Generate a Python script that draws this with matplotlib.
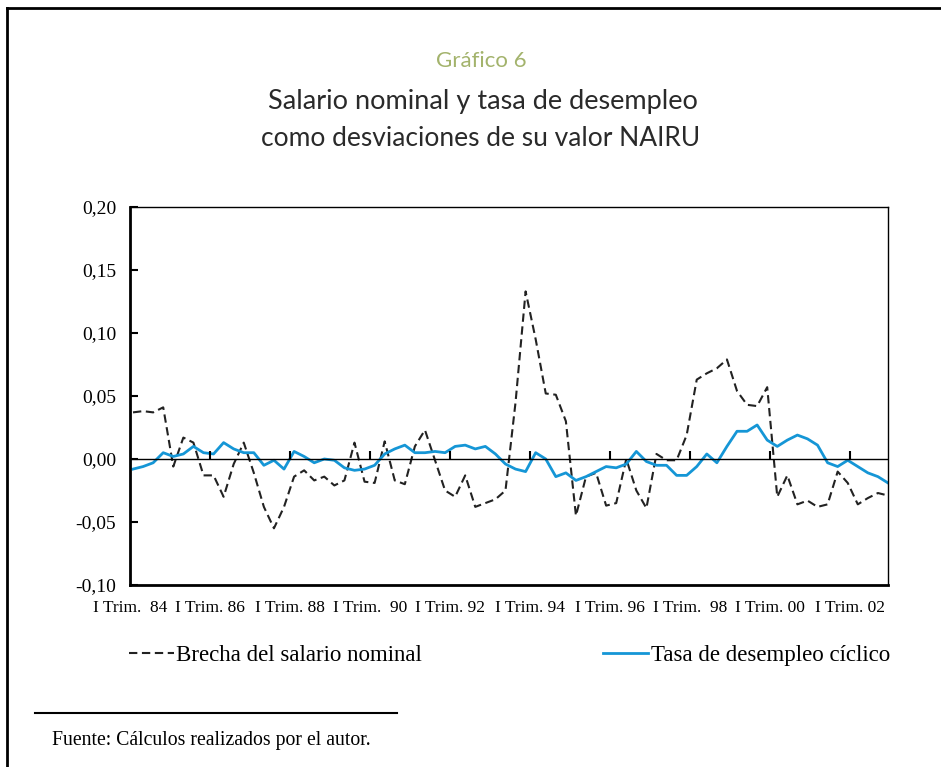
import matplotlib.pyplot as plt
import numpy as np
from matplotlib.lines import Line2D

# Quarterly data 1984 Q1 - 2002 Q4 (deviations from NAIRU value)
tick_labels = ['I Trim.  84', 'I Trim. 86', 'I Trim. 88', 'I Trim.  90', 'I Trim. 92',
               'I Trim. 94', 'I Trim. 96', 'I Trim.  98', 'I Trim. 00', 'I Trim. 02']
y_ticks = [-0.10, -0.05, 0.00, 0.05, 0.10, 0.15, 0.20]

brecha_salario = [
    0.037, 0.038, 0.037, 0.041, -0.006, 0.017, 0.013, -0.013, -0.013, -0.030,
    -0.004, 0.013, -0.011, -0.038, -0.055, -0.038, -0.014, -0.009, -0.017, -0.014,
    -0.021, -0.017, 0.013, -0.018, -0.019, 0.014, -0.017, -0.020, 0.010, 0.023,
    -0.001, -0.025, -0.030, -0.013, -0.038, -0.035, -0.032, -0.025, 0.045, 0.133,
    0.095, 0.052, 0.051, 0.030, -0.045, -0.014, -0.011, -0.037, -0.035, 0.000,
    -0.025, -0.039, 0.004, -0.001, -0.001, 0.019, 0.063, 0.068, 0.072, 0.079,
    0.054, 0.043, 0.042, 0.057, -0.030, -0.013, -0.036, -0.033, -0.038, -0.036,
    -0.010, -0.019, -0.036, -0.031, -0.027, -0.029,
]
desempleo_ciclico = [
    -0.008, -0.006, -0.003, 0.005, 0.002, 0.004, 0.010, 0.005, 0.004, 0.013,
    0.008, 0.005, 0.005, -0.005, -0.001, -0.008, 0.006, 0.002, -0.003, 0.000,
    -0.001, -0.007, -0.009, -0.008, -0.005, 0.004, 0.008, 0.011, 0.005, 0.005,
    0.006, 0.005, 0.010, 0.011, 0.008, 0.010, 0.004, -0.004, -0.008, -0.010,
    0.005, 0.000, -0.014, -0.011, -0.017, -0.014, -0.010, -0.006, -0.007, -0.004,
    0.006, -0.002, -0.005, -0.005, -0.013, -0.013, -0.006, 0.004, -0.003, 0.010,
    0.022, 0.022, 0.027, 0.015, 0.010, 0.015, 0.019, 0.016, 0.011, -0.003,
    -0.006, -0.001, -0.006, -0.011, -0.014, -0.019,
]

W, H = 941, 767
fig = plt.figure(figsize=(W / 100, H / 100), dpi=100)
fig.patch.set_facecolor('white')

# page frame (top and left only)
fig.add_artist(Line2D([7 / W, 1], [1 - 8 / H, 1 - 8 / H], color='black', lw=2))
fig.add_artist(Line2D([7 / W, 7 / W], [0, 1 - 8 / H], color='black', lw=2))

# titles
title_font = ['Lato', 'DejaVu Sans']
fig.text(481 / W, 1 - 61 / H, 'Gráfico 6', ha='center', va='center',
         fontsize=16, color='#a3b36c', family=title_font)
fig.text(483 / W, 1 - 101 / H, 'Salario nominal y tasa de desempleo', ha='center', va='center',
         fontsize=19.5, color='#2a2a2a', family=title_font)
fig.text(481 / W, 1 - 138 / H, 'como desviaciones de su valor NAIRU', ha='center', va='center',
         fontsize=19, color='#2a2a2a', family=title_font)

ax = fig.add_axes([130 / W, 1 - 585 / H, 758 / W, 378 / H])
x = np.arange(len(brecha_salario))
ax.plot(x, brecha_salario, color='#222222', lw=1.5, dashes=(4, 2.2),
        label='Brecha del salario nominal')
ax.plot(x, desempleo_ciclico, color='#1596d6', lw=2,
        label='Tasa de desempleo cíclico')
ax.axhline(0, color='black', lw=1)

x0, x1 = -0.3, 75.0
ax.set_xlim(x0, x1)
ax.set_ylim(-0.10, 0.20)

# category ticks every 8 quarters (80 px)
step = 80 * (x1 - x0) / 758
tick_pos = [x0 + k * step for k in range(len(tick_labels))]
ax.vlines(tick_pos[1:], 0, 0.0065, color='black', lw=1.5)
ax.set_xticks(tick_pos)
ax.set_xticklabels(tick_labels, family='Liberation Serif', fontsize=12.5)
ax.tick_params(axis='x', length=0, pad=11)

ax.set_yticks(y_ticks)
ax.set_yticklabels([f'{v:.2f}'.replace('.', ',') for v in y_ticks],
                   family='Liberation Serif', fontsize=14)
ax.tick_params(axis='y', direction='in', length=6, width=1.5, pad=10)

for side in ['left', 'bottom']:
    ax.spines[side].set_linewidth(2)
for side in ['top', 'right']:
    ax.spines[side].set_linewidth(1)

leg = fig.legend(loc='center left', bbox_to_anchor=(129 / W, 1 - 655 / H), ncol=2,
                 frameon=False, handlelength=1.95, handletextpad=0.12, columnspacing=7.9,
                 borderpad=0, borderaxespad=0,
                 prop={'family': 'Liberation Serif', 'size': 16.5})

# footnote separator and source
fig.add_artist(Line2D([35 / W, 397 / W], [1 - 713 / H, 1 - 713 / H], color='black', lw=1.5))
fig.text(52 / W, 1 - 741 / H, 'Fuente: Cálculos realizados por el autor.', ha='left', va='center',
         family='Liberation Serif', fontsize=14.2)

fig.savefig('out.png', dpi=100)
